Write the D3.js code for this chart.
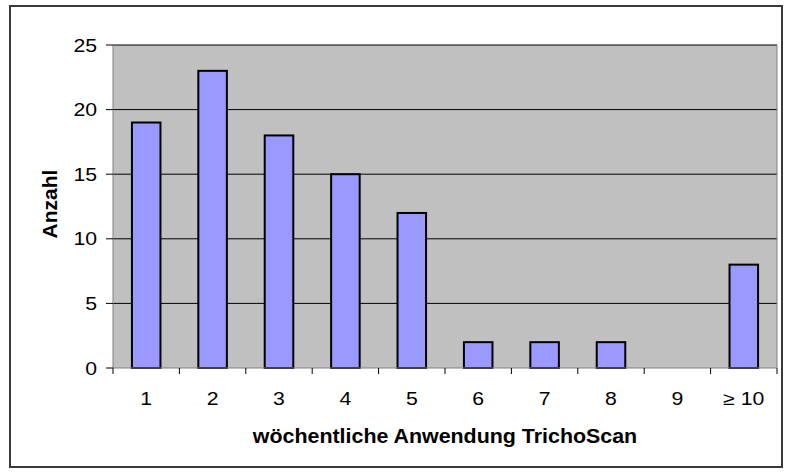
<!DOCTYPE html>
<html><head><meta charset="utf-8">
<script src="https://cdn.jsdelivr.net/npm/d3@7"></script>
<style>body{margin:0;background:#fff}svg{display:block}</style>
</head><body>
<script>
const categories = ["1","2","3","4","5","6","7","8","9","≥ 10"];
const values = [19,23,18,15,12,2,2,2,0,8];
const yTicks = [0,5,10,15,20,25];

const W=787,H=473;
const FONT="Liberation Sans, Arial, sans-serif";
const svg=d3.select("body").append("svg").attr("width",W).attr("height",H);
svg.append("rect").attr("x",10).attr("y",6).attr("width",772).attr("height",461)
  .attr("fill","#fff").attr("stroke","#3a3a3a").attr("stroke-width",2);

const L=113,R=777,T=45,B=368;
const x=d3.scaleBand().domain(categories).range([L,R]).paddingInner(0.57).paddingOuter(0.285);
const xb=d3.scaleBand().domain(categories).range([L,R]);
const y=d3.scaleLinear().domain([0,25]).range([B,T]);

svg.append("rect").attr("x",L).attr("y",T).attr("width",R-L).attr("height",B-T).attr("fill","#c0c0c0");
svg.append("g").selectAll("line").data(yTicks.filter(d=>d>0)).join("line")
  .attr("x1",L).attr("x2",R).attr("y1",d=>y(d)).attr("y2",d=>y(d)).attr("stroke","#000").attr("stroke-width",1);
svg.append("line").attr("x1",R).attr("x2",R).attr("y1",T).attr("y2",B).attr("stroke","#808080").attr("stroke-width",1);

svg.append("g").selectAll("rect").data(values).join("rect")
  .attr("x",(d,i)=>x(categories[i])).attr("width",x.bandwidth())
  .attr("y",d=>y(d)).attr("height",d=>B-y(d))
  .attr("fill","#9999ff").attr("stroke","#000").attr("stroke-width",2)
  .style("display",d=>d>0?null:"none");

// axes
svg.append("line").attr("x1",L).attr("x2",L).attr("y1",T).attr("y2",B).attr("stroke","#808080");
svg.append("line").attr("x1",L).attr("x2",R).attr("y1",B).attr("y2",B).attr("stroke","#808080");
svg.append("g").selectAll("line").data(yTicks).join("line")
  .attr("x1",L-7).attr("x2",L).attr("y1",d=>y(d)).attr("y2",d=>y(d)).attr("stroke","#000");
svg.append("g").selectAll("text").data(yTicks).join("text")
  .attr("transform",d=>`translate(97,${y(d)+6.5}) scale(1.18,1)`).attr("text-anchor","end")
  .attr("font-family",FONT).attr("font-size",18).text(d=>d);
const bounds=categories.map(c=>xb(c)).concat([R]);
svg.append("g").selectAll("line").data(bounds).join("line")
  .attr("x1",d=>d).attr("x2",d=>d).attr("y1",B).attr("y2",B+6).attr("stroke","#000");
svg.append("g").selectAll("text").data(categories).join("text")
  .attr("transform",d=>`translate(${xb(d)+xb.bandwidth()/2},405) scale(1.18,1)`).attr("text-anchor","middle")
  .attr("font-family",FONT).attr("font-size",18).text(d=>d);

svg.append("text").attr("transform","translate(445,443) scale(1.07,1)").attr("text-anchor","middle")
  .attr("font-family",FONT).attr("font-size",20).attr("font-weight","bold")
  .text("wöchentliche Anwendung TrichoScan");
svg.append("text").attr("transform","translate(57,204) rotate(-90)").attr("text-anchor","middle")
  .attr("font-family",FONT).attr("font-size",21).attr("font-weight","bold")
  .text("Anzahl");
</script>
</body></html>
